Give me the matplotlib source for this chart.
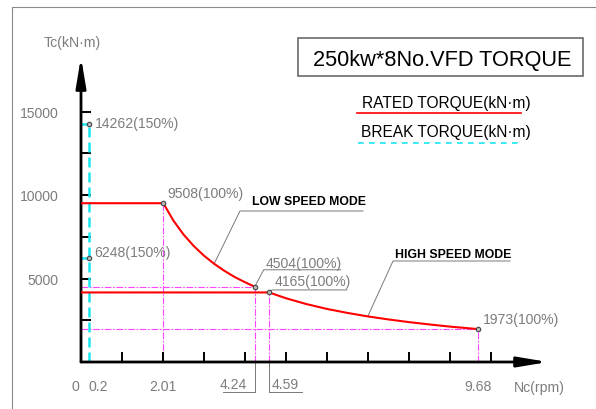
import numpy as np
import matplotlib
matplotlib.use("Agg")
import matplotlib.pyplot as plt
from matplotlib.lines import Line2D
from matplotlib.patches import Rectangle

# rated torque curves (speed in rpm, torque in kN.m)
speed_low = [0, 2.01, 2.25, 2.5, 2.75, 3.0, 3.25, 3.5, 3.75, 4.0, 4.24]
torque_low = [9508, 9508, 8490, 7640, 6950, 6370, 5880, 5460, 5090, 4780, 4504]
speed_high = [0, 4.59, 5.0, 5.5, 6.0, 6.5, 7.0, 7.5, 8.0, 8.5, 9.0, 9.68]
torque_high = [4165, 4165, 3820, 3470, 3180, 2940, 2730, 2550, 2390, 2250, 2120, 1973]

# break torque at 0.2 rpm
break_speed = 0.2
break_torque = [14262, 6248]

x_ticks = np.arange(1, 11)
y_ticks = [2500, 5000, 7500, 10000, 12500, 15000]
y_ticklabels = ["", "5000", "", "10000", "", "15000"]

plt.rcParams["font.family"] = ["Liberation Sans", "DejaVu Sans"]

GRAY = "#7d7d7d"
LINE_GRAY = "#787878"
MAGENTA = "#ff44ff"
CYAN = "#19e6f0"
RED = "#ff0000"
FS = 10.1   # small gray labels

W, H = 596, 410
X0, Y0 = 81, 363          # origin in pixels
SX, SY = 40.97, 0.0167    # pixels per unit
XMAX, YMAX = 11.40, 18263

fig = plt.figure(figsize=(W / 100, H / 100), dpi=100)
ax = fig.add_axes([X0 / W, (H - Y0) / H, XMAX * SX / W, YMAX * SY / H])
ax.set_xlim(0, XMAX)
ax.set_ylim(0, YMAX)
for s in ax.spines.values():
    s.set_visible(False)


def px(x, y):
    # image pixel -> data
    return (x - X0) / SX, (Y0 - y) / SY


# axes with arrows
arr = dict(arrowstyle="-|>,head_length=1.8,head_width=0.3", mutation_scale=10,
           lw=2, color="black", shrinkA=0, shrinkB=0)
ax.annotate("", xy=(0, 1), xytext=(0, 0), xycoords="axes fraction", arrowprops=arr)
ax.annotate("", xy=(1, 0), xytext=(0, 0), xycoords="axes fraction", arrowprops=arr)

ax.set_xticks(x_ticks)
ax.set_xticklabels([])
ax.set_yticks(y_ticks)
ax.set_yticklabels(y_ticklabels)
ax.tick_params(direction="in", length=7.2, width=1.4, color="black")
ax.tick_params(axis="y", pad=16, labelcolor=GRAY, labelsize=FS)

# guide lines
mg = dict(color=MAGENTA, lw=0.8, ls=(0, (6, 1.5, 1.5, 1.5)), zorder=1)
ax.plot([speed_low[1]] * 2, [0, torque_low[1]], **mg)
ax.plot([speed_low[-1]] * 2, [0, torque_low[-1]], **mg)
ax.plot([0, speed_low[-1]], [torque_low[-1]] * 2, **mg)
ax.plot([speed_high[1]] * 2, [0, torque_high[1]], **mg)
ax.plot([0, speed_high[-1]], [torque_high[-1]] * 2, **mg)
ax.plot([speed_high[-1]] * 2, [0, torque_high[-1]], **mg)

cy = dict(color=CYAN, lw=1.8, ls=(0, (4, 2)), zorder=2)
ax.plot([break_speed] * 2, [0, break_torque[0]], **cy)
ax.plot([0, break_speed], [break_torque[0]] * 2, **cy)
ax.plot([0, break_speed], [break_torque[1]] * 2, **cy)

# rated torque curves
ax.plot(speed_low, torque_low, color=RED, lw=1.5, zorder=3)
ax.plot(speed_high, torque_high, color=RED, lw=1.5, zorder=3)

pts_x = [break_speed, break_speed, speed_low[1], speed_low[-1], speed_high[1], speed_high[-1]]
pts_y = [break_torque[0], break_torque[1], torque_low[1], torque_low[-1], torque_high[1], torque_high[-1]]
ax.plot(pts_x, pts_y, "o", ms=3.2, mfc="#bbbbbb", mec="#444444", mew=0.8, zorder=4)

# point labels
lab = dict(textcoords="offset pixels", color=GRAY, fontsize=FS, ha="left", va="center")
ax.annotate("14262(150%)", xy=(break_speed, break_torque[0]), xytext=(6, 1), **lab)
ax.annotate("6248(150%)", xy=(break_speed, break_torque[1]), xytext=(5, 6), **lab)
ax.annotate("9508(100%)", xy=(speed_low[1], torque_low[1]), xytext=(4, 10), **lab)
ax.annotate("4504(100%)", xy=(speed_low[-1], torque_low[-1]), xytext=(11, 24), **lab)
ax.annotate("4165(100%)", xy=(speed_high[1], torque_high[1]), xytext=(6, 11), **lab)
ax.annotate("1973(100%)", xy=(speed_high[-1], torque_high[-1]), xytext=(5, 10), **lab)

ld = dict(color=LINE_GRAY, lw=0.7, clip_on=False, zorder=2)
x, y = speed_low[-1], torque_low[-1]
ax.plot([x, x + 9 / SX, x + 86 / SX], [y, y + 17 / SY, y + 17 / SY], **ld)
x, y = speed_high[1], torque_high[1]
ax.plot([x, x + 3 / SX, x + 78 / SX], [y, y + 2.5 / SY, y + 2.5 / SY], **ld)

# x tick labels
xl = dict(textcoords="offset pixels", color=GRAY, fontsize=FS, va="center")
ax.annotate("0", xy=(0, 0), xytext=(-2, -24), ha="right", **xl)
ax.annotate("0.2", xy=(break_speed, 0), xytext=(-1, -24), ha="left", **xl)
ax.annotate("2.01", xy=(speed_low[1], 0), xytext=(0, -24), ha="center", **xl)
ax.annotate("9.68", xy=(speed_high[-1], 0), xytext=(0, -24), ha="center", **xl)
ax.annotate("4.24", xy=(speed_low[-1], 0), xytext=(-8, -22), ha="right", **xl)
ax.annotate("4.59", xy=(speed_high[1], 0), xytext=(3, -22), ha="left", **xl)
x = speed_low[-1]
ax.plot([x, x, x - 32 / SX], [0, -30 / SY, -30 / SY], **ld)
x = speed_high[1]
ax.plot([x, x, x + 33 / SX], [0, -30 / SY, -30 / SY], **ld)

fig.text(539 / W, 1 - 388 / H, "Nc(rpm)", color=GRAY, fontsize=FS, ha="center", va="center")
fig.text(72.5 / W, 1 - 43 / H, "Tc(kN·m)", color=GRAY, fontsize=FS, ha="center", va="center")

# mode labels with leaders
md = dict(color="black", fontsize=8.8, fontweight="bold", ha="left", va="center")
ax.text(*px(252, 202), "LOW SPEED MODE", **md)
ux0, uy = px(240, 212)
ux1, _ = px(363, 212)
ax.plot([speed_low[6], ux0, ux1], [torque_low[6], uy, uy], **ld)
ax.text(*px(395, 255), "HIGH SPEED MODE", **md)
ux0, uy = px(393, 262)
ux1, _ = px(510, 262)
ax.plot([speed_high[6], ux0, ux1], [torque_high[6], uy, uy], **ld)

# title box
fig.add_artist(Rectangle((298 / W, 1 - 77 / H), 285 / W, 38 / H, transform=fig.transFigure,
                         fill=False, edgecolor="#6a6a6a", lw=1.2))
fig.text(442 / W, 1 - 66 / H, "250kw*8No.VFD TORQUE", fontsize=15.7,
         ha="center", va="baseline", color="black")

# legend
fig.text(446 / W, 1 - 108 / H, "RATED TORQUE(kN·m)", fontsize=11.2,
         ha="center", va="baseline", color="black")
fig.add_artist(Line2D([357 / W, 521 / W], [1 - 114 / H] * 2, transform=fig.transFigure,
                      color=RED, lw=1.2))
fig.text(446 / W, 1 - 137 / H, "BREAK TORQUE(kN·m)", fontsize=11.2,
         ha="center", va="baseline", color="black")
fig.add_artist(Line2D([358 / W, 520 / W], [1 - 144 / H] * 2, transform=fig.transFigure,
                      color=CYAN, lw=1.2, ls=(0, (3.4, 3.2))))

# drawing frame
fig.add_artist(Line2D([12 / W, 12 / W, 1], [0, 1 - 8 / H, 1 - 8 / H], transform=fig.transFigure,
                      color="#8a8a8a", lw=0.8))

fig.savefig("out.png", dpi=100, facecolor="white")
